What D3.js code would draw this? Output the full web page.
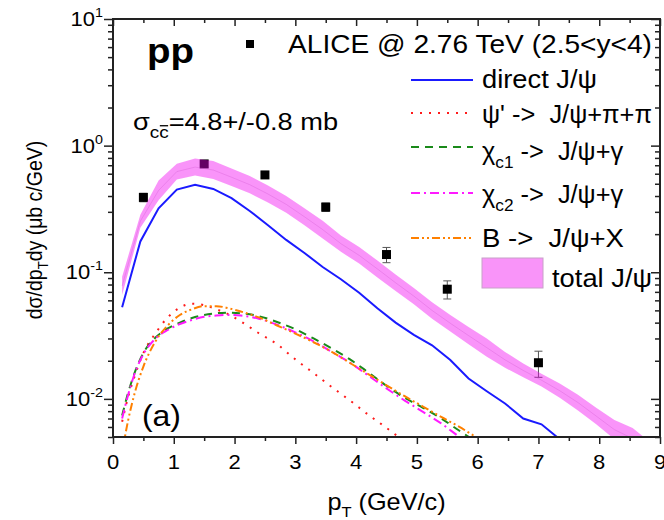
<!DOCTYPE html>
<html><head><meta charset="utf-8">
<script src="https://cdn.jsdelivr.net/npm/d3@7"></script>
<style>
body{margin:0;background:#fff}
text{font-family:"Liberation Sans",Arial,sans-serif;fill:#000;white-space:pre}
</style>
</head><body>
<svg id="chart" width="664" height="520"></svg>
<script>
// ALICE data points (pT in GeV/c, cross section in µb c/GeV)
const alicePt  = [0.5, 1.5, 2.5, 3.5, 4.5, 5.5, 7.0];
const aliceVal = [0.39, 0.717, 0.587, 0.327, 0.138, 0.0735, 0.0193];
const aliceErr = [0.03, 0.04, 0.03, 0.025, 0.019, 0.012, 0.0045];

// grid for the direct and total calculations
const mainPt = [0.15,0.45,0.75,1.05,1.35,1.65,1.95,2.25,2.55,2.85,3.15,3.45,3.75,4.05,4.35,4.65,4.95,5.25,5.55,5.85,6.15,6.45,6.75,7.05,7.35,7.65,7.95,8.25,8.55,8.85];
const directVal = [0.053,0.175,0.32,0.45,0.49,0.455,0.385,0.305,0.235,0.18,0.142,0.11,0.088,0.069,0.052,0.04,0.032,0.0265,0.0203,0.0145,0.0115,0.0092,0.007,0.0063,0.0048,0.004,0.0035,0.003,0.0025,0.002];
const totalHigh = [0.092,0.285,0.53,0.72,0.79,0.755,0.66,0.575,0.485,0.40,0.32,0.255,0.195,0.158,0.124,0.096,0.075,0.058,0.046,0.037,0.030,0.0235,0.019,0.0158,0.0132,0.0108,0.0085,0.0068,0.0059,0.0045];
const totalLow  = [0.066,0.225,0.37,0.54,0.58,0.545,0.48,0.42,0.355,0.295,0.235,0.185,0.145,0.117,0.091,0.071,0.056,0.043,0.034,0.027,0.0215,0.0176,0.0148,0.0125,0.0102,0.0081,0.0063,0.0048,0.004,0.0035];

// grid for the feed-down contributions
const feedPt = [0.15,0.25,0.35,0.5,0.7,0.9,1.1,1.3,1.5,1.7,1.9,2.1,2.4,2.7,3.0,3.3,3.6,3.9,4.2,4.5,4.8,5.1,5.4,5.7,6.0];
const psi2sVal = [0.0066,0.0104,0.0148,0.023,0.033,0.044,0.0525,0.0565,0.055,0.051,0.0465,0.041,0.033,0.027,0.0205,0.016,0.0124,0.0097,0.0075,0.0059,0.0046,0.0036,0.003,0.0025,0.002];
const chic1Val = [0.0074,0.0112,0.0158,0.023,0.0305,0.036,0.040,0.0435,0.046,0.0475,0.048,0.0475,0.045,0.0405,0.0355,0.030,0.025,0.0205,0.0162,0.0127,0.0102,0.0085,0.007,0.0056,0.0045];
const chic2Val = [0.0070,0.0108,0.0155,0.0225,0.030,0.035,0.039,0.042,0.0445,0.0455,0.046,0.0455,0.043,0.0385,0.0335,0.0285,0.0235,0.0193,0.0153,0.0121,0.0097,0.0079,0.0064,0.005,0.004];
const bDecayVal = [0.0038,0.0068,0.0108,0.018,0.0285,0.038,0.046,0.051,0.054,0.054,0.052,0.049,0.044,0.038,0.0328,0.028,0.0235,0.0192,0.0157,0.0128,0.0105,0.0087,0.0072,0.006,0.0049];

const xTicks = [0,1,2,3,4,5,6,7,8,9];
const xMinor = [0.5,1.5,2.5,3.5,4.5,5.5,6.5,7.5,8.5];
const yDecades = [0.01,0.1,1,10];
const yExponents = ["-2","-1","0","1"];

const svg = d3.select("#chart");
const L = 113, R = 660, T = 19, B = 437;
const SX = 1.1; // horizontal glyph stretch used for all labels
const x = d3.scaleLinear().domain([0,9]).range([L,R]);
const y = d3.scaleLog().domain([0.005,10]).range([B,T]);

// text placed at (px,py), widened horizontally by SX
function stext(parent, px, py, size, anchor){
  const g = parent.append("g").attr("data-x",px).attr("data-y",py)
    .attr("transform",`translate(${px},${py}) scale(${SX},1)`);
  return g.append("text").attr("text-anchor",anchor||"start").style("font-size",size+"px");
}
// squeeze or widen a label so it spans w pixels
function fitWidth(t, w){
  const g = d3.select(t.node().parentNode);
  const bw = t.node().getBBox().width;
  g.attr("transform",`translate(${g.attr("data-x")},${g.attr("data-y")}) scale(${w/bw},1)`);
}

svg.append("clipPath").attr("id","plotclip")
  .append("rect").attr("x",L).attr("y",T).attr("width",R-L).attr("height",B-T);
const plot = svg.append("g").attr("clip-path","url(#plotclip)");

// minor log ticks
const yMinor = [];
[0.001,0.01,0.1,1].forEach(d => { for (let k=2;k<=9;k++){ const v=d*k; if(v>=0.005 && v<=10) yMinor.push(v);} });

function styleAxis(g){
  g.select(".domain").remove();
  g.selectAll(".tick line").attr("stroke","#222").attr("stroke-width",1.5);
  g.selectAll(".tick text").remove();
}
// bottom ticks (outward) and top ticks (pointing down into the frame)
[B,T].forEach(py => {
  svg.append("g").attr("transform",`translate(0,${py})`).call(d3.axisBottom(x).tickValues(xTicks).tickSize(7)).call(styleAxis);
  svg.append("g").attr("transform",`translate(0,${py})`).call(d3.axisBottom(x).tickValues(xMinor).tickSize(4)).call(styleAxis);
});
// left ticks (outward) and right ticks (inward)
[L,R].forEach(px => {
  svg.append("g").attr("transform",`translate(${px},0)`).call(d3.axisLeft(y).tickValues(yDecades).tickSize(9)).call(styleAxis);
  svg.append("g").attr("transform",`translate(${px},0)`).call(d3.axisLeft(y).tickValues(yMinor).tickSize(5)).call(styleAxis);
});

// x tick labels
xTicks.forEach(d => stext(svg, x(d), B+32, 20, "middle").text(d));
// y tick labels 10^n
yDecades.forEach((d,i) => {
  const t = stext(svg, L-10, y(d)+7, 20, "end");
  t.append("tspan").text("10");
  t.append("tspan").attr("dy",-9).style("font-size","13px").text(yExponents[i]);
});

const area = d3.area().x((d,i)=>x(mainPt[i])).y0((d,i)=>y(totalLow[i])).y1((d,i)=>y(totalHigh[i]));
const line = (pts) => d3.line().x((d,i)=>x(pts[i])).y(d=>y(d));

// data points with error bars
const pts = plot.append("g");
alicePt.forEach((p,i)=>{
  const cx = x(p), cy = y(aliceVal[i]);
  const y1 = y(aliceVal[i]+aliceErr[i]), y2 = y(aliceVal[i]-aliceErr[i]);
  pts.append("line").attr("x1",cx).attr("x2",cx).attr("y1",y1).attr("y2",y2).attr("stroke","#555").attr("stroke-width",1);
  pts.append("line").attr("x1",cx-4).attr("x2",cx+4).attr("y1",y1).attr("y2",y1).attr("stroke","#555").attr("stroke-width",1);
  pts.append("line").attr("x1",cx-4).attr("x2",cx+4).attr("y1",y2).attr("y2",y2).attr("stroke","#555").attr("stroke-width",1);
  pts.append("rect").attr("x",cx-4.5).attr("y",cy-4.5).attr("width",9).attr("height",9).attr("fill","#000");
});

// total J/psi band (translucent, over the points)
plot.append("path").datum(totalHigh).attr("d",area).attr("fill","#f000f0").attr("fill-opacity",0.42);
plot.append("path").datum(totalHigh.map((h,i)=>Math.sqrt(h*totalLow[i])))
  .attr("d",line(mainPt)).attr("fill","none").attr("stroke","#c040c0").attr("stroke-width",0.7).attr("stroke-opacity",0.35);

// direct J/psi
plot.append("path").datum(directVal).attr("d",line(mainPt)).attr("fill","none").attr("stroke","#1a1aff").attr("stroke-width",2);

// feed-down contributions
const curveLine = (pts) => d3.line().x((d,i)=>x(pts[i])).y(d=>y(d)).curve(d3.curveMonotoneX);
const feed = [
  {v:psi2sVal, c:"#ff1a1a", dash:"2,7"},
  {v:chic1Val, c:"#1a8a1a", dash:"8,6"},
  {v:chic2Val, c:"#ff1aff", dash:"9,4,2,4"},
  {v:bDecayVal, c:"#ff8000", dash:"8,3,2,3,2,3"}
];
feed.forEach(f=>{
  plot.append("path").datum(f.v).attr("d",curveLine(feedPt)).attr("fill","none")
    .attr("stroke",f.c).attr("stroke-width",2).attr("stroke-dasharray",f.dash);
});

// frame
svg.append("rect").attr("x",L).attr("y",T).attr("width",R-L).attr("height",B-T)
  .attr("fill","none").attr("stroke","#222").attr("stroke-width",2);

// axis titles
const xt = stext(svg, (L+R)/2, 510, 23, "middle");
xt.append("tspan").text("p");
xt.append("tspan").attr("dy",7).style("font-size","15px").text("T");
xt.append("tspan").attr("dy",-7).text(" (GeV/c)");

const ytg = svg.append("g").attr("transform",`translate(42,230) scale(${SX},1) rotate(-90)`);
const yt = ytg.append("text").attr("text-anchor","middle").style("font-size","19.5px");
yt.append("tspan").text("dσ/dp");
yt.append("tspan").attr("dy",5).style("font-size","13px").text("T");
yt.append("tspan").attr("dy",-5).text("dy (μb c/GeV)");

// annotations
stext(svg, 147, 63, 35).style("font-weight","bold").text("pp");
stext(svg, 142, 426, 29).text("(a)");
const sg = stext(svg, 133, 130, 23);
sg.append("tspan").text("σ");
sg.append("tspan").attr("dy",8).style("font-size","16px").text("cc");
sg.append("tspan").attr("dy",-8).text("=4.8+/-0.8 mb");
{
  // bar over the second c (anti-charm)
  const ext = sg.node().getExtentOfChar(2);
  d3.select(sg.node().parentNode).append("line")
    .attr("x1",ext.x+0.5).attr("x2",ext.x+ext.width-0.5)
    .attr("y1",ext.y+2).attr("y2",ext.y+2).attr("stroke","#000").attr("stroke-width",1.3);
}
fitWidth(sg, 205);

// legend
const lg = svg.append("g");
lg.append("rect").attr("x",246).attr("y",40).attr("width",8).attr("height",8).attr("fill","#000");
fitWidth(stext(lg, 288, 53, 25).text("ALICE @ 2.76 TeV (2.5<y<4)"), 364);
const legRows = [
  {ly:80,  base:88,  w:115, c:"#1a1aff", dash:null, parts:[["direct J/ψ"]]},
  {ly:113, base:123, w:170, c:"#ff1a1a", dash:"2,7", parts:[["ψ' ->  J/ψ+π+π"]]},
  {ly:147, base:160, w:142, c:"#1a8a1a", dash:"8,6", parts:[["χ"],["c1","sub"],[" ->  J/ψ+γ"]]},
  {ly:193, base:203, w:142, c:"#ff1aff", dash:"9,4,2,4", parts:[["χ"],["c2","sub"],[" ->  J/ψ+γ"]]},
  {ly:238, base:247, w:142, c:"#ff8000", dash:"8,3,2,3,2,3", parts:[["B ->  J/ψ+X"]]}
];
legRows.forEach(r=>{
  lg.append("line").attr("x1",411).attr("x2",473).attr("y1",r.ly).attr("y2",r.ly)
    .attr("stroke",r.c).attr("stroke-width",2).attr("stroke-dasharray",r.dash);
  const t = stext(lg, 482, r.base, 25);
  let sub=false;
  r.parts.forEach(p=>{
    const ts = t.append("tspan").text(p[0]);
    if(p[1]==="sub"){ ts.attr("dy",8).style("font-size","17px"); sub=true; }
    else if(sub){ ts.attr("dy",-8); sub=false; }
  });
  fitWidth(t, r.w);
});
lg.append("rect").attr("x",482).attr("y",258).attr("width",61).attr("height",30)
  .attr("fill","#f000f0").attr("fill-opacity",0.42).attr("stroke","#c8a0c8").attr("stroke-width",1);
fitWidth(stext(lg, 552, 287, 25).text("total J/ψ"), 100);
</script>
</body></html>
